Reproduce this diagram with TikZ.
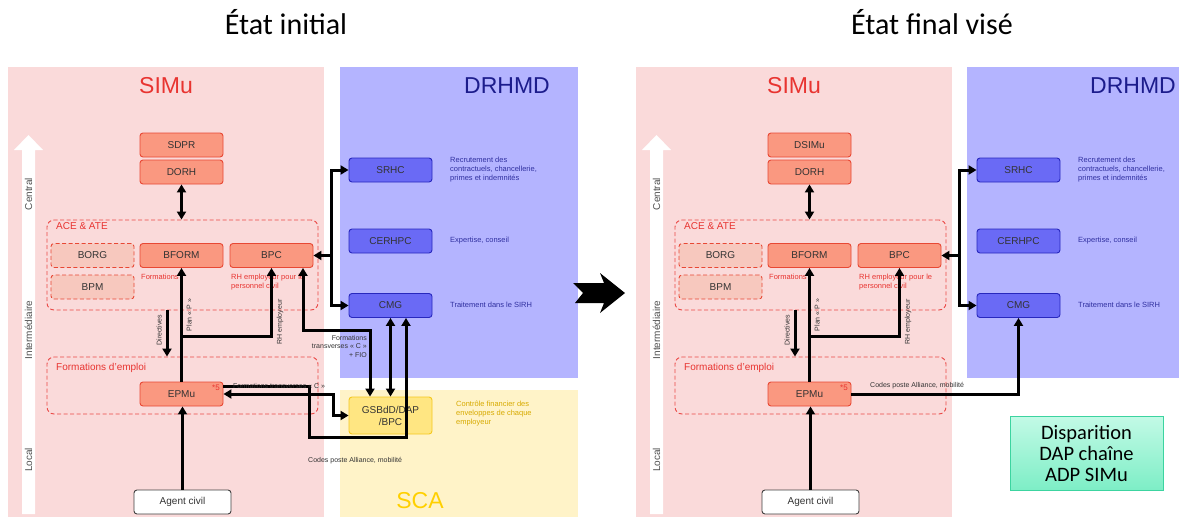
\documentclass[tikz,border=0pt]{standalone}
\usepackage{fontspec}
\setmainfont{Liberation Sans}
\newfontfamily\calibrifont{Carlito}
\usetikzlibrary{arrows.meta}
\definecolor{simubg}{RGB}{250,218,218}
\definecolor{drhmdbg}{RGB}{180,180,255}
\definecolor{scabg}{RGB}{255,243,200}
\definecolor{simured}{RGB}{232,52,48}
\definecolor{unitfill}{RGB}{250,152,128}
\definecolor{unitline}{RGB}{232,72,52}
\definecolor{softfill}{RGB}{247,200,190}
\definecolor{bluefill}{RGB}{106,106,245}
\definecolor{blueline}{RGB}{40,40,190}
\definecolor{bluetext}{RGB}{48,48,160}
\definecolor{navy}{RGB}{28,28,140}
\definecolor{goldfill}{RGB}{255,230,130}
\definecolor{goldline}{RGB}{245,200,30}
\definecolor{goldtext}{RGB}{215,170,0}
\definecolor{scatext}{RGB}{255,208,0}
\definecolor{mintlight}{RGB}{195,250,230}
\definecolor{mintdark}{RGB}{125,238,198}
\definecolor{mintline}{RGB}{60,212,160}
\definecolor{graytext}{RGB}{80,80,80}

\begin{document}
\begin{tikzpicture}[x=1pt,y=-1pt,
  unit/.style={draw=unitline,fill=unitfill,line width=0.9pt,rounded corners=3pt,minimum width=83pt,minimum height=24pt,inner sep=0pt,text=black!80,font=\fontsize{10}{12}\selectfont},
  softunit/.style={unit,fill=softfill,dash pattern=on 4pt off 2.5pt},
  blueunit/.style={unit,draw=blueline,fill=bluefill},
  goldunit/.style={unit,draw=goldline,fill=goldfill,minimum height=37pt,align=center},
  agentbox/.style={unit,draw=black!75,fill=white,minimum width=97pt},
  group/.style={draw=simured!90,dash pattern=on 4pt off 2.5pt,line width=0.9pt,rounded corners=7pt,inner sep=0pt},
  grouplabel/.style={anchor=north west,text=simured,font=\fontsize{10}{12}\selectfont,inner sep=0pt},
  rednote/.style={anchor=north west,text=simured,font=\fontsize{7.5}{9}\selectfont,align=left,inner sep=0pt},
  bluenote/.style={anchor=west,text=bluetext,font=\fontsize{7.5}{9}\selectfont,align=left,inner sep=0pt},
  goldnote/.style={anchor=west,text=goldtext,font=\fontsize{7.5}{9}\selectfont,align=left,inner sep=0pt},
  linknote/.style={text=black!80,font=\fontsize{7}{8.5}\selectfont,inner sep=0pt},
  level/.style={rotate=90,text=graytext,font=\fontsize{10}{12}\selectfont,inner sep=0pt},
  paneltitle/.style={font=\fontsize{23}{27}\selectfont,inner sep=0pt},
  title/.style={font=\calibrifont\fontsize{30}{34}\selectfont,inner sep=0pt},
  link/.style={line width=3pt,-{Triangle[length=8pt,width=9pt]}},
  dlink/.style={line width=3pt,{Triangle[length=8pt,width=9pt]}-{Triangle[length=8pt,width=9pt]}}]
\useasboundingbox (0,0) rectangle (1179,517);

\node[title] (initial) at (286,22) {État initial};
\node[title] (final) at (932,22) {État final visé};

\fill[simubg] (8,67) rectangle (324,517);
\fill[drhmdbg] (340,67) rectangle (578,378);
\fill[scabg] (340,390) rectangle (578,517);
\fill[simubg] (636,67) rectangle (952,517);
\fill[drhmdbg] (967,67) rectangle (1179,378);

\fill[white] (22,514) -- (22,150) -- (14,150) -- (28.5,135) -- (43,150) -- (35,150) -- (35,514) -- cycle;
\fill[white] (650,514) -- (650,150) -- (642,150) -- (656.5,135) -- (671,150) -- (663,150) -- (663,514) -- cycle;
\node[level] (central) at (28.5,194) {Central};
\node[level] (inter) at (28.5,330) {Intermédiaire};
\node[level] (local) at (28.5,460) {Local};
\node[level] (fcentral) at (656.5,194) {Central};
\node[level] (finter) at (656.5,330) {Intermédiaire};
\node[level] (flocal) at (656.5,460) {Local};

\node[paneltitle,text=simured] (simu) at (166,86) {SIMu};
\node[paneltitle,text=navy] (drhmd) at (507,86) {DRHMD};
\node[paneltitle,text=scatext] (sca) at (420,501) {SCA};
\node[paneltitle,text=simured] (fsimu) at (794,86) {SIMu};
\node[paneltitle,text=navy] (fdrhmd) at (1133,86) {DRHMD};

\node[group,minimum width=271pt,minimum height=90pt] (ace) at (182.5,265) {};
\node[grouplabel] (acelabel) at (56,222) {ACE \& ATE};
\node[group,minimum width=271pt,minimum height=57pt] (emp) at (182.5,385.5) {};
\node[grouplabel] (emplabel) at (56,363) {Formations d’emploi};
\node[group,minimum width=271pt,minimum height=90pt] (face) at (810.5,265) {};
\node[grouplabel] (facelabel) at (684,222) {ACE \& ATE};
\node[group,minimum width=271pt,minimum height=57pt] (femp) at (810.5,385.5) {};
\node[grouplabel] (femplabel) at (684,363) {Formations d’emploi};

\node[unit] (sdpr) at (181.5,145) {SDPR};
\node[unit] (dorh) at (181.5,172) {DORH};
\node[softunit] (borg) at (92.5,255.5) {BORG};
\node[softunit] (bpm) at (92.5,287) {BPM};
\node[unit] (bform) at (181.5,255.5) {BFORM};
\node[unit] (bpc) at (271.5,255.5) {BPC};
\node[unit] (epmu) at (181.5,394) {EPMu};
\node[agentbox] (agent) at (182.5,502) {Agent civil};
\node[blueunit] (srhc) at (390.5,170) {SRHC};
\node[blueunit] (cerhpc) at (390.5,241) {CERHPC};
\node[blueunit] (cmg) at (390.5,305.5) {CMG};
\node[goldunit] (gsbdd) at (390.5,415.5) {GSBdD/DAP\\/BPC};

\node[unit] (fdsimu) at (809.5,145) {DSIMu};
\node[unit] (fdorh) at (809.5,172) {DORH};
\node[softunit] (fborg) at (720.5,255.5) {BORG};
\node[softunit] (fbpm) at (720.5,287) {BPM};
\node[unit] (fbform) at (809.5,255.5) {BFORM};
\node[unit] (fbpc) at (899.5,255.5) {BPC};
\node[unit] (fepmu) at (809.5,394) {EPMu};
\node[agentbox] (fagent) at (810.5,502) {Agent civil};
\node[blueunit] (fsrhc) at (1018.5,170) {SRHC};
\node[blueunit] (fcerhpc) at (1018.5,241) {CERHPC};
\node[blueunit] (fcmg) at (1018.5,305.5) {CMG};

\node[rednote] (formnote) at (141,274) {Formations};
\node[rednote] (rhnote) at (231,274) {RH employeur pour le\\personnel civil};
\node[text=simured,font=\fontsize{8}{9}\selectfont,inner sep=0pt] (star) at (216,388) {*5};
\node[rednote] (fformnote) at (769,274) {Formations};
\node[rednote] (frhnote) at (859,274) {RH employeur pour le\\personnel civil};
\node[text=simured,font=\fontsize{8}{9}\selectfont,inner sep=0pt] (fstar) at (844,388) {*5};

\node[bluenote] (srhcnote) at (450,170) {Recrutement des\\contractuels, chancellerie,\\primes et indemnités};
\node[bluenote] (cerhpcnote) at (450,241) {Expertise, conseil};
\node[bluenote] (cmgnote) at (450,305) {Traitement dans le SIRH};
\node[goldnote] (gsbddnote) at (456,414) {Contrôle financier des\\enveloppes de chaque\\employeur};
\node[bluenote] (fsrhcnote) at (1078,170) {Recrutement des\\contractuels, chancellerie,\\primes et indemnités};
\node[bluenote] (fcerhpcnote) at (1078,241) {Expertise, conseil};
\node[bluenote] (fcmgnote) at (1078,305) {Traitement dans le SIRH};

\draw[dlink] (dorh.south) -- (dorh.south |- ace.north);
\draw[link] ([xshift=-15.5]ace.south) -- ([xshift=-15.5]emp.north);
\draw[link] (epmu.north) -- (bform.south);
\draw[link] (epmu.north) ++(0,-45) -| (bpc.south);
\draw[link] (agent.north) -- (agent.north |- epmu.south);
\coordinate (bus) at (331,255.5);
\draw[dlink] (srhc.west) -| (bus) |- (cmg.west);
\draw[link] (bus) -- (bpc.east);
\draw[dlink] ([xshift=31.5]bpc.south) -- ++(0,63) -| ([xshift=-20.5]gsbdd.north);
\draw[dlink] (cmg.south) -- (gsbdd.north);
\draw[dlink] (epmu.east) -- ++(110,0) |- (gsbdd.west);
\draw[link] ([yshift=8]epmu.east) -- ++(86,0) -- ++(0,51) -| ([xshift=15.5]cmg.south);
\node[linknote,rotate=90] (dirnote) at (159,330) {Directives};
\node[linknote,rotate=90] (plannote) at (189,315) {Plan « P »};
\node[linknote,rotate=90] (rhemp) at (280,322) {RH employeur};
\node[linknote,anchor=north east,align=right] (ftnote) at (367,335) {Formations\\transverses « C »\\+ FIO};
\node[linknote,anchor=south west] (ftcnote) at (233,389) {Formations transverses « C »};
\node[linknote,anchor=north west] (codesnote) at (308,457) {Codes poste Alliance, mobilité};

\draw[dlink] (fdorh.south) -- (fdorh.south |- face.north);
\draw[link] ([xshift=-15.5]face.south) -- ([xshift=-15.5]femp.north);
\draw[link] (fepmu.north) -- (fbform.south);
\draw[link] (fepmu.north) ++(0,-45) -| (fbpc.south);
\draw[link] (fagent.north) -- (fagent.north |- fepmu.south);
\coordinate (fbus) at (959,255.5);
\draw[dlink] (fsrhc.west) -| (fbus) |- (fcmg.west);
\draw[link] (fbus) -- (fbpc.east);
\draw[link] (fepmu.east) -| (fcmg.south);
\node[linknote,rotate=90] (fdirnote) at (787,330) {Directives};
\node[linknote,rotate=90] (fplannote) at (817,315) {Plan « P »};
\node[linknote,rotate=90] (frhemp) at (908,322) {RH employeur};
\node[linknote,anchor=south west] (fcodesnote) at (870,389) {Codes poste Alliance, mobilité};

\fill[black] (573,283) -- (604,283) -- (600,273) -- (625,293) -- (600,313) -- (604,303) -- (575,303) -- (583,293) -- cycle;

\node[draw=mintline,line width=1pt,top color=mintlight,bottom color=mintdark,minimum width=153pt,minimum height=74pt,align=center,font=\calibrifont\fontsize{20.5}{21}\selectfont] (disp) at (1086.5,453) {Disparition\\DAP chaîne\\ADP SIMu};
\end{tikzpicture}
\end{document}
